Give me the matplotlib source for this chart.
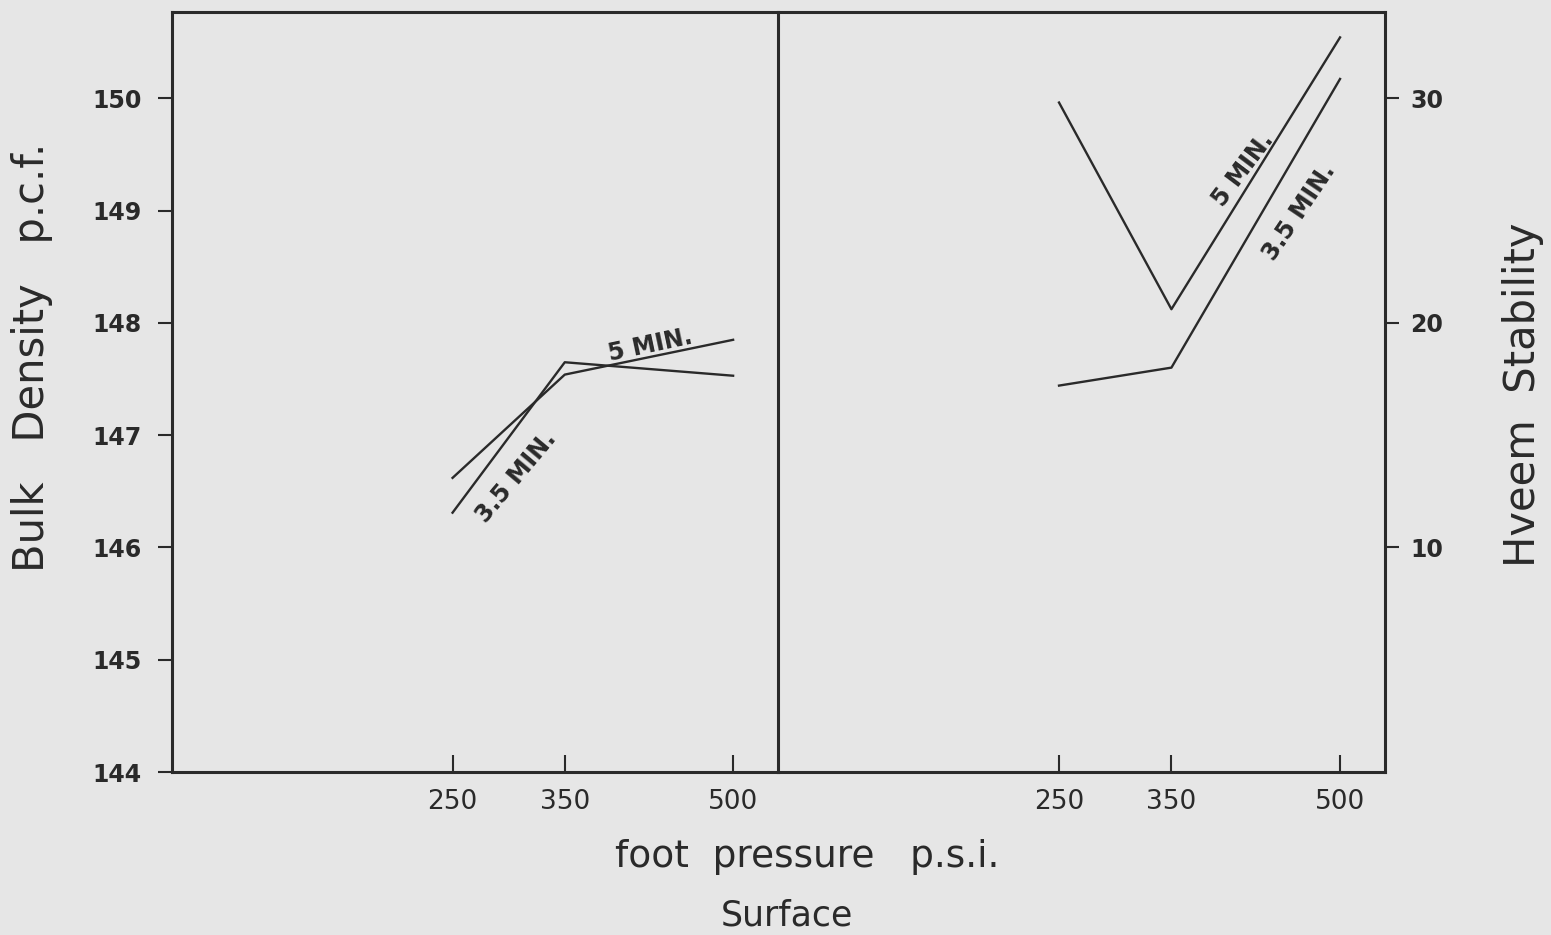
import matplotlib
matplotlib.use("Agg")
import matplotlib.pyplot as plt

# foot pressure (p.s.i.)
pressure = [250, 350, 500]

# Bulk density p.c.f. (left panel)
density_5min = [146.62, 147.54, 147.85]
density_35min = [146.31, 147.65, 147.53]

# Hveem stability (right panel)
stab_5min = [29.8, 20.6, 32.7]
stab_35min = [17.2, 18.0, 30.85]

bg = '#e6e6e6'
ink = '#2a2a2a'

fig = plt.figure(figsize=(15.51, 9.35), dpi=100, facecolor=bg)
left, right, mid = 172 / 1551, 1385 / 1551, 778 / 1551
bottom, top = 1 - 772 / 935, 1 - 12 / 935
ax1 = fig.add_axes([left, bottom, mid - left, top - bottom])
ax2 = fig.add_axes([mid, bottom, right - mid, top - bottom])

for ax in (ax1, ax2):
    ax.set_facecolor(bg)
    ax.set_xlim(0, 540)
    ax.set_xticks(pressure)
    ax.set_xticklabels([str(p) for p in pressure], fontsize=19)
    ax.tick_params(axis='x', direction='in', length=12, width=1.5, pad=12, colors=ink)
    for s in ax.spines.values():
        s.set_linewidth(2.2)
        s.set_color(ink)

# left panel
ax1.plot(pressure, density_5min, color=ink, lw=1.7)
ax1.plot(pressure, density_35min, color=ink, lw=1.7)
ax1.set_ylim(144, 150.77)
ax1.set_yticks([144, 145, 146, 147, 148, 149, 150])
ax1.spines['right'].set_visible(False)
ax1.tick_params(axis='y', direction='out', length=10, width=1.5, labelsize=17, pad=12, colors=ink)
for lb in ax1.get_yticklabels():
    lb.set_fontweight('bold')
ax1.set_ylabel('Bulk   Density   p.c.f.', fontsize=30, color=ink)
ax1.yaxis.set_label_coords(-0.197, 0.545)
ax1.text(426, 147.80, '5 MIN.', rotation=12, fontsize=17, fontweight='bold',
         ha='center', va='center', color=ink)
ax1.text(307, 146.63, '3.5 MIN.', rotation=50, fontsize=17, fontweight='bold',
         ha='center', va='center', color=ink)

# right panel
ax2.plot(pressure, stab_5min, color=ink, lw=1.7)
ax2.plot(pressure, stab_35min, color=ink, lw=1.7)
ax2.set_ylim(0, 33.83)
ax2.set_yticks([10, 20, 30])
ax2.yaxis.tick_right()
ax2.yaxis.set_label_position('right')
ax2.tick_params(axis='y', direction='out', length=10, width=1.5, labelsize=17, pad=8, colors=ink)
for lb in ax2.get_yticklabels():
    lb.set_fontweight('bold')
ax2.set_ylabel('Hveem  Stability', fontsize=30, color=ink)
ax2.yaxis.set_label_coords(1.192, 0.496)
ax2.text(414, 26.8, '5 MIN.', rotation=53, fontsize=17, fontweight='bold',
         ha='center', va='center', color=ink)
ax2.text(464, 24.9, '3.5 MIN.', rotation=56, fontsize=17, fontweight='bold',
         ha='center', va='center', color=ink)

fig.text(807 / 1551, 1 - 857 / 935, 'foot  pressure   p.s.i.', fontsize=27,
         ha='center', va='center', color=ink)
fig.text(787 / 1551, 1 - 915 / 935, 'Surface', fontsize=25,
         ha='center', va='center', color=ink)

fig.savefig('out.png', dpi=100, facecolor=bg)
